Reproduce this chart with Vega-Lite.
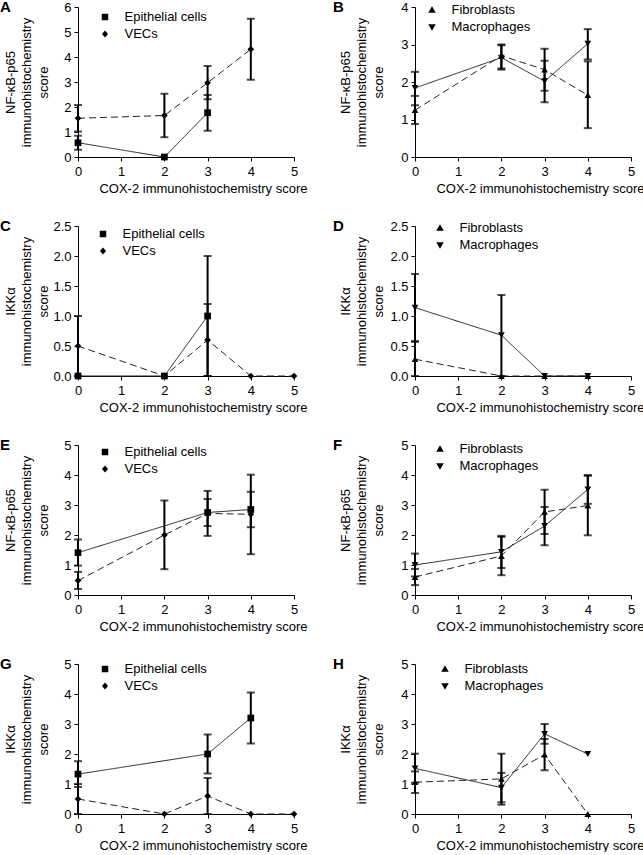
{
  "$schema": "https://vega.github.io/schema/vega-lite/v6.json",
  "padding": 0,
  "background": "white",
  "config": {
    "view": {"stroke": null},
    "font": "Liberation Sans",
    "axis": {"domainColor": "#000", "tickColor": "#000", "labelColor": "#000", "titleColor": "#000", "labelFont": "Liberation Sans", "titleFont": "Liberation Sans", "labelFontSize": 13, "titleFontSize": 13, "titleFontWeight": "normal", "grid": false, "tickSize": 4, "domainWidth": 1, "tickWidth": 1, "labelOverlap": false},
    "axisX": {"values": [0, 1, 2, 3, 4, 5], "labelPadding": 4, "titleX": 229, "titleY": 35, "titleAlign": "right", "titleBaseline": "alphabetic", "labelFlush": false},
    "axisY": {"titleY": 75, "titleAngle": -90, "titleBaseline": "middle", "titleAlign": "center", "titleLineHeight": 16.5, "labelPadding": 3},
    "title": {"anchor": "start", "frame": "group", "fontSize": 15, "fontWeight": "bold", "font": "Liberation Sans", "color": "#000", "offset": 0},
    "legend": {"symbolSize": 100, "labelOffset": 13, "rowPadding": 3, "labelFontSize": 13, "labelFont": "Liberation Sans", "labelColor": "#000", "padding": 0}
  },
  "data": {"values": [
    {"panel": "A", "series": "Epithelial cells", "x": 0, "y": 0.57, "lo": 0.29, "hi": 0.85},
    {"panel": "A", "series": "Epithelial cells", "x": 2, "y": 0},
    {"panel": "A", "series": "Epithelial cells", "x": 3, "y": 1.77, "lo": 1.05, "hi": 2.48},
    {"panel": "A", "series": "VECs", "x": 0, "y": 1.55, "lo": 1.02, "hi": 2.08},
    {"panel": "A", "series": "VECs", "x": 2, "y": 1.66, "lo": 0.79, "hi": 2.53},
    {"panel": "A", "series": "VECs", "x": 3, "y": 2.97, "lo": 2.31, "hi": 3.64},
    {"panel": "A", "series": "VECs", "x": 4, "y": 4.31, "lo": 3.09, "hi": 5.53},
    {"panel": "B", "series": "Fibroblasts", "x": 0, "y": 1.25, "lo": 0.88, "hi": 1.63},
    {"panel": "B", "series": "Fibroblasts", "x": 2, "y": 2.7, "lo": 2.36, "hi": 3.0},
    {"panel": "B", "series": "Fibroblasts", "x": 3, "y": 2.33, "lo": 1.77, "hi": 2.89},
    {"panel": "B", "series": "Fibroblasts", "x": 4, "y": 1.65, "lo": 0.77, "hi": 2.55},
    {"panel": "B", "series": "Macrophages", "x": 0, "y": 1.84, "lo": 1.38, "hi": 2.27},
    {"panel": "B", "series": "Macrophages", "x": 2, "y": 2.65, "lo": 2.33, "hi": 2.98},
    {"panel": "B", "series": "Macrophages", "x": 3, "y": 2.02, "lo": 1.46, "hi": 2.57},
    {"panel": "B", "series": "Macrophages", "x": 4, "y": 3.02, "lo": 2.6, "hi": 3.41},
    {"panel": "C", "series": "Epithelial cells", "x": 0, "y": 0},
    {"panel": "C", "series": "Epithelial cells", "x": 2, "y": 0},
    {"panel": "C", "series": "Epithelial cells", "x": 3, "y": 1.0, "lo": 0, "hi": 2.0},
    {"panel": "C", "series": "VECs", "x": 0, "y": 0.5, "lo": 0, "hi": 1.0},
    {"panel": "C", "series": "VECs", "x": 2, "y": 0},
    {"panel": "C", "series": "VECs", "x": 3, "y": 0.6, "lo": 0, "hi": 1.2},
    {"panel": "C", "series": "VECs", "x": 4, "y": 0},
    {"panel": "C", "series": "VECs", "x": 5, "y": 0},
    {"panel": "D", "series": "Fibroblasts", "x": 0, "y": 0.28, "lo": 0, "hi": 0.57},
    {"panel": "D", "series": "Fibroblasts", "x": 2, "y": 0},
    {"panel": "D", "series": "Fibroblasts", "x": 3, "y": 0},
    {"panel": "D", "series": "Fibroblasts", "x": 4, "y": 0},
    {"panel": "D", "series": "Macrophages", "x": 0, "y": 1.14, "lo": 0.58, "hi": 1.7},
    {"panel": "D", "series": "Macrophages", "x": 2, "y": 0.68, "lo": 0, "hi": 1.35},
    {"panel": "D", "series": "Macrophages", "x": 3, "y": 0},
    {"panel": "D", "series": "Macrophages", "x": 4, "y": 0},
    {"panel": "E", "series": "Epithelial cells", "x": 0, "y": 1.41, "lo": 0.98, "hi": 1.85},
    {"panel": "E", "series": "Epithelial cells", "x": 3, "y": 2.75, "lo": 2.3, "hi": 3.2},
    {"panel": "E", "series": "Epithelial cells", "x": 4, "y": 2.85, "lo": 2.26, "hi": 3.44},
    {"panel": "E", "series": "VECs", "x": 0, "y": 0.48, "lo": 0.2, "hi": 0.77},
    {"panel": "E", "series": "VECs", "x": 2, "y": 2.0, "lo": 0.86, "hi": 3.15},
    {"panel": "E", "series": "VECs", "x": 3, "y": 2.72, "lo": 1.97, "hi": 3.47},
    {"panel": "E", "series": "VECs", "x": 4, "y": 2.69, "lo": 1.36, "hi": 4.01},
    {"panel": "F", "series": "Fibroblasts", "x": 0, "y": 0.6, "lo": 0.33, "hi": 0.87},
    {"panel": "F", "series": "Fibroblasts", "x": 2, "y": 1.3, "lo": 0.66, "hi": 1.94},
    {"panel": "F", "series": "Fibroblasts", "x": 3, "y": 2.77, "lo": 2.03, "hi": 3.51},
    {"panel": "F", "series": "Fibroblasts", "x": 4, "y": 2.98, "lo": 1.99, "hi": 3.97},
    {"panel": "F", "series": "Macrophages", "x": 0, "y": 1.0, "lo": 0.62, "hi": 1.38},
    {"panel": "F", "series": "Macrophages", "x": 2, "y": 1.44, "lo": 0.9, "hi": 1.97},
    {"panel": "F", "series": "Macrophages", "x": 3, "y": 2.3, "lo": 1.66, "hi": 2.93},
    {"panel": "F", "series": "Macrophages", "x": 4, "y": 3.52, "lo": 3.04, "hi": 4.0},
    {"panel": "G", "series": "Epithelial cells", "x": 0, "y": 1.33, "lo": 0.9, "hi": 1.76},
    {"panel": "G", "series": "Epithelial cells", "x": 3, "y": 2.0, "lo": 1.35, "hi": 2.65},
    {"panel": "G", "series": "Epithelial cells", "x": 4, "y": 3.2, "lo": 2.35, "hi": 4.05},
    {"panel": "G", "series": "VECs", "x": 0, "y": 0.5, "lo": 0, "hi": 1.0},
    {"panel": "G", "series": "VECs", "x": 2, "y": 0},
    {"panel": "G", "series": "VECs", "x": 3, "y": 0.6, "lo": 0, "hi": 1.2},
    {"panel": "G", "series": "VECs", "x": 4, "y": 0},
    {"panel": "G", "series": "VECs", "x": 5, "y": 0},
    {"panel": "H", "series": "Fibroblasts", "x": 0, "y": 1.06, "lo": 0.7, "hi": 1.42},
    {"panel": "H", "series": "Fibroblasts", "x": 2, "y": 1.17, "lo": 0.31, "hi": 2.01},
    {"panel": "H", "series": "Fibroblasts", "x": 3, "y": 1.98, "lo": 1.46, "hi": 2.5},
    {"panel": "H", "series": "Fibroblasts", "x": 4, "y": 0},
    {"panel": "H", "series": "Macrophages", "x": 0, "y": 1.52, "lo": 1.04, "hi": 2.01},
    {"panel": "H", "series": "Macrophages", "x": 2, "y": 0.88, "lo": 0.39, "hi": 1.37},
    {"panel": "H", "series": "Macrophages", "x": 3, "y": 2.67, "lo": 2.34, "hi": 3.0},
    {"panel": "H", "series": "Macrophages", "x": 4, "y": 2.0}
  ]},
  "columns": 2,
  "spacing": {"row": 69, "column": 121},
  "bounds": "flush",
  "resolve": {"scale": {"shape": "independent", "strokeDash": "independent"}, "legend": {"shape": "independent", "strokeDash": "independent"}},
  "concat": [
      {"width": 216, "height": 150, "title": {"text": "A", "dx": -78, "dy": 18},
       "transform": [{"filter": "datum.panel === 'A'"}],
       "encoding": {"x": {"field": "x", "type": "quantitative", "scale": {"domain": [0, 5], "nice": false}, "title": "COX-2 immunohistochemistry score"}},
       "layer": [
        {"mark": {"type": "line", "color": "#222", "strokeWidth": 1}, "encoding": {"y": {"field": "y", "type": "quantitative", "scale": {"domain": [0, 6], "nice": false}, "axis": {"values": [0, 1, 2, 3, 4, 5, 6], "titleX": -68}, "title": ["NF-κB-p65", "immunohistochemistry", "score"]},
          "detail": {"field": "series"}, "strokeDash": {"condition": {"test": "datum.series === 'VECs'", "value": [7, 4]}, "value": [1, 0]}}},
        {"transform": [{"filter": "isValid(datum.lo)"}], "mark": {"type": "rule", "color": "#000", "strokeWidth": 2}, "encoding": {"y": {"field": "lo", "type": "quantitative", "scale": {"domain": [0, 6], "nice": false}, "axis": {"values": [0, 1, 2, 3, 4, 5, 6], "titleX": -68}, "title": ["NF-κB-p65", "immunohistochemistry", "score"]}, "y2": {"field": "hi"}}},
        {"transform": [{"filter": "isValid(datum.lo)"}], "mark": {"type": "tick", "orient": "horizontal", "color": "#000", "thickness": 2, "size": 8}, "encoding": {"y": {"field": "lo", "type": "quantitative", "scale": {"domain": [0, 6], "nice": false}, "axis": {"values": [0, 1, 2, 3, 4, 5, 6], "titleX": -68}, "title": ["NF-κB-p65", "immunohistochemistry", "score"]}}},
        {"transform": [{"filter": "isValid(datum.lo)"}], "mark": {"type": "tick", "orient": "horizontal", "color": "#000", "thickness": 2, "size": 8}, "encoding": {"y": {"field": "hi", "type": "quantitative", "scale": {"domain": [0, 6], "nice": false}, "axis": {"values": [0, 1, 2, 3, 4, 5, 6], "titleX": -68}, "title": ["NF-κB-p65", "immunohistochemistry", "score"]}}},
        {"mark": {"type": "point", "filled": true, "color": "#000", "opacity": 1}, "encoding": {"y": {"field": "y", "type": "quantitative", "scale": {"domain": [0, 6], "nice": false}, "axis": {"values": [0, 1, 2, 3, 4, 5, 6], "titleX": -68}, "title": ["NF-κB-p65", "immunohistochemistry", "score"]}, "size": {"value": 45},
          "shape": {"condition": {"test": "datum.series === 'VECs'", "value": "diamond"}, "value": "square"}}},
        {"mark": {"type": "point", "filled": true, "color": "#000", "opacity": 0, "strokeWidth": 1}, "encoding": {"y": {"field": "y", "type": "quantitative", "scale": {"domain": [0, 6], "nice": false}, "axis": {"values": [0, 1, 2, 3, 4, 5, 6], "titleX": -68}, "title": ["NF-κB-p65", "immunohistochemistry", "score"]}, "size": {"value": 10},
          "shape": {"field": "series", "type": "nominal", "scale": {"domain": ["Epithelial cells", "VECs"], "range": ["M-2.3,0H2.3M-0.65,-0.65H0.65V0.65H-0.65Z", "M-2.3,0H2.3M0,-0.7L0.6,0L0,0.7L-0.6,0Z"]},
            "legend": {"title": null, "orient": "none", "legendX": 20.5, "legendY": 3.5, "encode": {"symbols": {"fill": {"value": "#000"}, "stroke": {"value": "#222"}, "strokeWidth": {"value": 1}, "opacity": {"value": 1}}}}},
          "strokeDash": {"field": "series", "type": "nominal", "scale": {"domain": ["Epithelial cells", "VECs"], "range": [[1, 0], [4, 3]]},
            "legend": {"title": null, "orient": "none", "legendX": 20.5, "legendY": 3.5, "encode": {"symbols": {"fill": {"value": "#000"}, "stroke": {"value": "#222"}, "strokeWidth": {"value": 1}, "opacity": {"value": 1}}}}}}}
       ]},
      {"width": 216, "height": 150, "title": {"text": "B", "dx": -82, "dy": 18},
       "transform": [{"filter": "datum.panel === 'B'"}],
       "encoding": {"x": {"field": "x", "type": "quantitative", "scale": {"domain": [0, 5], "nice": false}, "title": "COX-2 immunohistochemistry score"}},
       "layer": [
        {"mark": {"type": "line", "color": "#222", "strokeWidth": 1}, "encoding": {"y": {"field": "y", "type": "quantitative", "scale": {"domain": [0, 4], "nice": false}, "axis": {"values": [0, 1, 2, 3, 4], "titleX": -70}, "title": ["NF-κB-p65", "immunohistochemistry", "score"]},
          "detail": {"field": "series"}, "strokeDash": {"condition": {"test": "datum.series === 'Fibroblasts'", "value": [7, 4]}, "value": [1, 0]}}},
        {"transform": [{"filter": "isValid(datum.lo)"}], "mark": {"type": "rule", "color": "#000", "strokeWidth": 2}, "encoding": {"y": {"field": "lo", "type": "quantitative", "scale": {"domain": [0, 4], "nice": false}, "axis": {"values": [0, 1, 2, 3, 4], "titleX": -70}, "title": ["NF-κB-p65", "immunohistochemistry", "score"]}, "y2": {"field": "hi"}}},
        {"transform": [{"filter": "isValid(datum.lo)"}], "mark": {"type": "tick", "orient": "horizontal", "color": "#000", "thickness": 2, "size": 8}, "encoding": {"y": {"field": "lo", "type": "quantitative", "scale": {"domain": [0, 4], "nice": false}, "axis": {"values": [0, 1, 2, 3, 4], "titleX": -70}, "title": ["NF-κB-p65", "immunohistochemistry", "score"]}}},
        {"transform": [{"filter": "isValid(datum.lo)"}], "mark": {"type": "tick", "orient": "horizontal", "color": "#000", "thickness": 2, "size": 8}, "encoding": {"y": {"field": "hi", "type": "quantitative", "scale": {"domain": [0, 4], "nice": false}, "axis": {"values": [0, 1, 2, 3, 4], "titleX": -70}, "title": ["NF-κB-p65", "immunohistochemistry", "score"]}}},
        {"mark": {"type": "point", "filled": true, "color": "#000", "opacity": 1}, "encoding": {"y": {"field": "y", "type": "quantitative", "scale": {"domain": [0, 4], "nice": false}, "axis": {"values": [0, 1, 2, 3, 4], "titleX": -70}, "title": ["NF-κB-p65", "immunohistochemistry", "score"]}, "size": {"value": 45},
          "shape": {"condition": {"test": "datum.series === 'Fibroblasts'", "value": "triangle-up"}, "value": "triangle-down"}}},
        {"mark": {"type": "point", "filled": true, "color": "#000", "opacity": 0, "strokeWidth": 1}, "encoding": {"y": {"field": "y", "type": "quantitative", "scale": {"domain": [0, 4], "nice": false}, "axis": {"values": [0, 1, 2, 3, 4], "titleX": -70}, "title": ["NF-κB-p65", "immunohistochemistry", "score"]}, "size": {"value": 10},
          "shape": {"field": "series", "type": "nominal", "scale": {"domain": ["Fibroblasts", "Macrophages"], "range": ["M-2.3,0H2.3M0,-0.75L0.75,0.55H-0.75Z", "M-2.3,0H2.3M0,0.75L0.75,-0.55H-0.75Z"]},
            "legend": {"title": null, "orient": "none", "legendX": 10.5, "legendY": -3.5, "encode": {"symbols": {"fill": {"value": "#000"}, "stroke": {"value": "#222"}, "strokeWidth": {"value": 1}, "opacity": {"value": 1}}}}},
          "strokeDash": {"field": "series", "type": "nominal", "scale": {"domain": ["Fibroblasts", "Macrophages"], "range": [[4, 3], [1, 0]]},
            "legend": {"title": null, "orient": "none", "legendX": 10.5, "legendY": -3.5, "encode": {"symbols": {"fill": {"value": "#000"}, "stroke": {"value": "#222"}, "strokeWidth": {"value": 1}, "opacity": {"value": 1}}}}}}}
       ]},
      {"width": 216, "height": 150, "title": {"text": "C", "dx": -78, "dy": 18},
       "transform": [{"filter": "datum.panel === 'C'"}],
       "encoding": {"x": {"field": "x", "type": "quantitative", "scale": {"domain": [0, 5], "nice": false}, "title": "COX-2 immunohistochemistry score"}},
       "layer": [
        {"mark": {"type": "line", "color": "#222", "strokeWidth": 1}, "encoding": {"y": {"field": "y", "type": "quantitative", "scale": {"domain": [0, 2.5], "nice": false}, "axis": {"values": [0, 0.5, 1, 1.5, 2, 2.5], "format": ".1f", "titleX": -68}, "title": ["IKKα", "immunohistochemistry", "score"]},
          "detail": {"field": "series"}, "strokeDash": {"condition": {"test": "datum.series === 'VECs'", "value": [7, 4]}, "value": [1, 0]}}},
        {"transform": [{"filter": "isValid(datum.lo)"}], "mark": {"type": "rule", "color": "#000", "strokeWidth": 2}, "encoding": {"y": {"field": "lo", "type": "quantitative", "scale": {"domain": [0, 2.5], "nice": false}, "axis": {"values": [0, 0.5, 1, 1.5, 2, 2.5], "format": ".1f", "titleX": -68}, "title": ["IKKα", "immunohistochemistry", "score"]}, "y2": {"field": "hi"}}},
        {"transform": [{"filter": "isValid(datum.lo)"}], "mark": {"type": "tick", "orient": "horizontal", "color": "#000", "thickness": 2, "size": 8}, "encoding": {"y": {"field": "lo", "type": "quantitative", "scale": {"domain": [0, 2.5], "nice": false}, "axis": {"values": [0, 0.5, 1, 1.5, 2, 2.5], "format": ".1f", "titleX": -68}, "title": ["IKKα", "immunohistochemistry", "score"]}}},
        {"transform": [{"filter": "isValid(datum.lo)"}], "mark": {"type": "tick", "orient": "horizontal", "color": "#000", "thickness": 2, "size": 8}, "encoding": {"y": {"field": "hi", "type": "quantitative", "scale": {"domain": [0, 2.5], "nice": false}, "axis": {"values": [0, 0.5, 1, 1.5, 2, 2.5], "format": ".1f", "titleX": -68}, "title": ["IKKα", "immunohistochemistry", "score"]}}},
        {"mark": {"type": "point", "filled": true, "color": "#000", "opacity": 1}, "encoding": {"y": {"field": "y", "type": "quantitative", "scale": {"domain": [0, 2.5], "nice": false}, "axis": {"values": [0, 0.5, 1, 1.5, 2, 2.5], "format": ".1f", "titleX": -68}, "title": ["IKKα", "immunohistochemistry", "score"]}, "size": {"value": 45},
          "shape": {"condition": {"test": "datum.series === 'VECs'", "value": "diamond"}, "value": "square"}}},
        {"mark": {"type": "point", "filled": true, "color": "#000", "opacity": 0, "strokeWidth": 1}, "encoding": {"y": {"field": "y", "type": "quantitative", "scale": {"domain": [0, 2.5], "nice": false}, "axis": {"values": [0, 0.5, 1, 1.5, 2, 2.5], "format": ".1f", "titleX": -68}, "title": ["IKKα", "immunohistochemistry", "score"]}, "size": {"value": 10},
          "shape": {"field": "series", "type": "nominal", "scale": {"domain": ["Epithelial cells", "VECs"], "range": ["M-2.3,0H2.3M-0.65,-0.65H0.65V0.65H-0.65Z", "M-2.3,0H2.3M0,-0.7L0.6,0L0,0.7L-0.6,0Z"]},
            "legend": {"title": null, "orient": "none", "legendX": 18.5, "legendY": 1.5, "encode": {"symbols": {"fill": {"value": "#000"}, "stroke": {"value": "#222"}, "strokeWidth": {"value": 1}, "opacity": {"value": 1}}}}},
          "strokeDash": {"field": "series", "type": "nominal", "scale": {"domain": ["Epithelial cells", "VECs"], "range": [[1, 0], [4, 3]]},
            "legend": {"title": null, "orient": "none", "legendX": 18.5, "legendY": 1.5, "encode": {"symbols": {"fill": {"value": "#000"}, "stroke": {"value": "#222"}, "strokeWidth": {"value": 1}, "opacity": {"value": 1}}}}}}}
       ]},
      {"width": 216, "height": 150, "title": {"text": "D", "dx": -82, "dy": 18},
       "transform": [{"filter": "datum.panel === 'D'"}],
       "encoding": {"x": {"field": "x", "type": "quantitative", "scale": {"domain": [0, 5], "nice": false}, "title": "COX-2 immunohistochemistry score"}},
       "layer": [
        {"mark": {"type": "line", "color": "#222", "strokeWidth": 1}, "encoding": {"y": {"field": "y", "type": "quantitative", "scale": {"domain": [0, 2.5], "nice": false}, "axis": {"values": [0, 0.5, 1, 1.5, 2, 2.5], "format": ".1f", "titleX": -70}, "title": ["IKKα", "immunohistochemistry", "score"]},
          "detail": {"field": "series"}, "strokeDash": {"condition": {"test": "datum.series === 'Fibroblasts'", "value": [7, 4]}, "value": [1, 0]}}},
        {"transform": [{"filter": "isValid(datum.lo)"}], "mark": {"type": "rule", "color": "#000", "strokeWidth": 2}, "encoding": {"y": {"field": "lo", "type": "quantitative", "scale": {"domain": [0, 2.5], "nice": false}, "axis": {"values": [0, 0.5, 1, 1.5, 2, 2.5], "format": ".1f", "titleX": -70}, "title": ["IKKα", "immunohistochemistry", "score"]}, "y2": {"field": "hi"}}},
        {"transform": [{"filter": "isValid(datum.lo)"}], "mark": {"type": "tick", "orient": "horizontal", "color": "#000", "thickness": 2, "size": 8}, "encoding": {"y": {"field": "lo", "type": "quantitative", "scale": {"domain": [0, 2.5], "nice": false}, "axis": {"values": [0, 0.5, 1, 1.5, 2, 2.5], "format": ".1f", "titleX": -70}, "title": ["IKKα", "immunohistochemistry", "score"]}}},
        {"transform": [{"filter": "isValid(datum.lo)"}], "mark": {"type": "tick", "orient": "horizontal", "color": "#000", "thickness": 2, "size": 8}, "encoding": {"y": {"field": "hi", "type": "quantitative", "scale": {"domain": [0, 2.5], "nice": false}, "axis": {"values": [0, 0.5, 1, 1.5, 2, 2.5], "format": ".1f", "titleX": -70}, "title": ["IKKα", "immunohistochemistry", "score"]}}},
        {"mark": {"type": "point", "filled": true, "color": "#000", "opacity": 1}, "encoding": {"y": {"field": "y", "type": "quantitative", "scale": {"domain": [0, 2.5], "nice": false}, "axis": {"values": [0, 0.5, 1, 1.5, 2, 2.5], "format": ".1f", "titleX": -70}, "title": ["IKKα", "immunohistochemistry", "score"]}, "size": {"value": 45},
          "shape": {"condition": {"test": "datum.series === 'Fibroblasts'", "value": "triangle-up"}, "value": "triangle-down"}}},
        {"mark": {"type": "point", "filled": true, "color": "#000", "opacity": 0, "strokeWidth": 1}, "encoding": {"y": {"field": "y", "type": "quantitative", "scale": {"domain": [0, 2.5], "nice": false}, "axis": {"values": [0, 0.5, 1, 1.5, 2, 2.5], "format": ".1f", "titleX": -70}, "title": ["IKKα", "immunohistochemistry", "score"]}, "size": {"value": 10},
          "shape": {"field": "series", "type": "nominal", "scale": {"domain": ["Fibroblasts", "Macrophages"], "range": ["M-2.3,0H2.3M0,-0.75L0.75,0.55H-0.75Z", "M-2.3,0H2.3M0,0.75L0.75,-0.55H-0.75Z"]},
            "legend": {"title": null, "orient": "none", "legendX": 18.5, "legendY": -4.5, "encode": {"symbols": {"fill": {"value": "#000"}, "stroke": {"value": "#222"}, "strokeWidth": {"value": 1}, "opacity": {"value": 1}}}}},
          "strokeDash": {"field": "series", "type": "nominal", "scale": {"domain": ["Fibroblasts", "Macrophages"], "range": [[4, 3], [1, 0]]},
            "legend": {"title": null, "orient": "none", "legendX": 18.5, "legendY": -4.5, "encode": {"symbols": {"fill": {"value": "#000"}, "stroke": {"value": "#222"}, "strokeWidth": {"value": 1}, "opacity": {"value": 1}}}}}}}
       ]},
      {"width": 216, "height": 150, "title": {"text": "E", "dx": -78, "dy": 18},
       "transform": [{"filter": "datum.panel === 'E'"}],
       "encoding": {"x": {"field": "x", "type": "quantitative", "scale": {"domain": [0, 5], "nice": false}, "title": "COX-2 immunohistochemistry score"}},
       "layer": [
        {"mark": {"type": "line", "color": "#222", "strokeWidth": 1}, "encoding": {"y": {"field": "y", "type": "quantitative", "scale": {"domain": [0, 5], "nice": false}, "axis": {"values": [0, 1, 2, 3, 4, 5], "titleX": -68}, "title": ["NF-κB-p65", "immunohistochemistry", "score"]},
          "detail": {"field": "series"}, "strokeDash": {"condition": {"test": "datum.series === 'VECs'", "value": [7, 4]}, "value": [1, 0]}}},
        {"transform": [{"filter": "isValid(datum.lo)"}], "mark": {"type": "rule", "color": "#000", "strokeWidth": 2}, "encoding": {"y": {"field": "lo", "type": "quantitative", "scale": {"domain": [0, 5], "nice": false}, "axis": {"values": [0, 1, 2, 3, 4, 5], "titleX": -68}, "title": ["NF-κB-p65", "immunohistochemistry", "score"]}, "y2": {"field": "hi"}}},
        {"transform": [{"filter": "isValid(datum.lo)"}], "mark": {"type": "tick", "orient": "horizontal", "color": "#000", "thickness": 2, "size": 8}, "encoding": {"y": {"field": "lo", "type": "quantitative", "scale": {"domain": [0, 5], "nice": false}, "axis": {"values": [0, 1, 2, 3, 4, 5], "titleX": -68}, "title": ["NF-κB-p65", "immunohistochemistry", "score"]}}},
        {"transform": [{"filter": "isValid(datum.lo)"}], "mark": {"type": "tick", "orient": "horizontal", "color": "#000", "thickness": 2, "size": 8}, "encoding": {"y": {"field": "hi", "type": "quantitative", "scale": {"domain": [0, 5], "nice": false}, "axis": {"values": [0, 1, 2, 3, 4, 5], "titleX": -68}, "title": ["NF-κB-p65", "immunohistochemistry", "score"]}}},
        {"mark": {"type": "point", "filled": true, "color": "#000", "opacity": 1}, "encoding": {"y": {"field": "y", "type": "quantitative", "scale": {"domain": [0, 5], "nice": false}, "axis": {"values": [0, 1, 2, 3, 4, 5], "titleX": -68}, "title": ["NF-κB-p65", "immunohistochemistry", "score"]}, "size": {"value": 45},
          "shape": {"condition": {"test": "datum.series === 'VECs'", "value": "diamond"}, "value": "square"}}},
        {"mark": {"type": "point", "filled": true, "color": "#000", "opacity": 0, "strokeWidth": 1}, "encoding": {"y": {"field": "y", "type": "quantitative", "scale": {"domain": [0, 5], "nice": false}, "axis": {"values": [0, 1, 2, 3, 4, 5], "titleX": -68}, "title": ["NF-κB-p65", "immunohistochemistry", "score"]}, "size": {"value": 10},
          "shape": {"field": "series", "type": "nominal", "scale": {"domain": ["Epithelial cells", "VECs"], "range": ["M-2.3,0H2.3M-0.65,-0.65H0.65V0.65H-0.65Z", "M-2.3,0H2.3M0,-0.7L0.6,0L0,0.7L-0.6,0Z"]},
            "legend": {"title": null, "orient": "none", "legendX": 20.5, "legendY": 0.5, "encode": {"symbols": {"fill": {"value": "#000"}, "stroke": {"value": "#222"}, "strokeWidth": {"value": 1}, "opacity": {"value": 1}}}}},
          "strokeDash": {"field": "series", "type": "nominal", "scale": {"domain": ["Epithelial cells", "VECs"], "range": [[1, 0], [4, 3]]},
            "legend": {"title": null, "orient": "none", "legendX": 20.5, "legendY": 0.5, "encode": {"symbols": {"fill": {"value": "#000"}, "stroke": {"value": "#222"}, "strokeWidth": {"value": 1}, "opacity": {"value": 1}}}}}}}
       ]},
      {"width": 216, "height": 150, "title": {"text": "F", "dx": -82, "dy": 18},
       "transform": [{"filter": "datum.panel === 'F'"}],
       "encoding": {"x": {"field": "x", "type": "quantitative", "scale": {"domain": [0, 5], "nice": false}, "title": "COX-2 immunohistochemistry score"}},
       "layer": [
        {"mark": {"type": "line", "color": "#222", "strokeWidth": 1}, "encoding": {"y": {"field": "y", "type": "quantitative", "scale": {"domain": [0, 5], "nice": false}, "axis": {"values": [0, 1, 2, 3, 4, 5], "titleX": -70}, "title": ["NF-κB-p65", "immunohistochemistry", "score"]},
          "detail": {"field": "series"}, "strokeDash": {"condition": {"test": "datum.series === 'Fibroblasts'", "value": [7, 4]}, "value": [1, 0]}}},
        {"transform": [{"filter": "isValid(datum.lo)"}], "mark": {"type": "rule", "color": "#000", "strokeWidth": 2}, "encoding": {"y": {"field": "lo", "type": "quantitative", "scale": {"domain": [0, 5], "nice": false}, "axis": {"values": [0, 1, 2, 3, 4, 5], "titleX": -70}, "title": ["NF-κB-p65", "immunohistochemistry", "score"]}, "y2": {"field": "hi"}}},
        {"transform": [{"filter": "isValid(datum.lo)"}], "mark": {"type": "tick", "orient": "horizontal", "color": "#000", "thickness": 2, "size": 8}, "encoding": {"y": {"field": "lo", "type": "quantitative", "scale": {"domain": [0, 5], "nice": false}, "axis": {"values": [0, 1, 2, 3, 4, 5], "titleX": -70}, "title": ["NF-κB-p65", "immunohistochemistry", "score"]}}},
        {"transform": [{"filter": "isValid(datum.lo)"}], "mark": {"type": "tick", "orient": "horizontal", "color": "#000", "thickness": 2, "size": 8}, "encoding": {"y": {"field": "hi", "type": "quantitative", "scale": {"domain": [0, 5], "nice": false}, "axis": {"values": [0, 1, 2, 3, 4, 5], "titleX": -70}, "title": ["NF-κB-p65", "immunohistochemistry", "score"]}}},
        {"mark": {"type": "point", "filled": true, "color": "#000", "opacity": 1}, "encoding": {"y": {"field": "y", "type": "quantitative", "scale": {"domain": [0, 5], "nice": false}, "axis": {"values": [0, 1, 2, 3, 4, 5], "titleX": -70}, "title": ["NF-κB-p65", "immunohistochemistry", "score"]}, "size": {"value": 45},
          "shape": {"condition": {"test": "datum.series === 'Fibroblasts'", "value": "triangle-up"}, "value": "triangle-down"}}},
        {"mark": {"type": "point", "filled": true, "color": "#000", "opacity": 0, "strokeWidth": 1}, "encoding": {"y": {"field": "y", "type": "quantitative", "scale": {"domain": [0, 5], "nice": false}, "axis": {"values": [0, 1, 2, 3, 4, 5], "titleX": -70}, "title": ["NF-κB-p65", "immunohistochemistry", "score"]}, "size": {"value": 10},
          "shape": {"field": "series", "type": "nominal", "scale": {"domain": ["Fibroblasts", "Macrophages"], "range": ["M-2.3,0H2.3M0,-0.75L0.75,0.55H-0.75Z", "M-2.3,0H2.3M0,0.75L0.75,-0.55H-0.75Z"]},
            "legend": {"title": null, "orient": "none", "legendX": 18.5, "legendY": -2.5, "encode": {"symbols": {"fill": {"value": "#000"}, "stroke": {"value": "#222"}, "strokeWidth": {"value": 1}, "opacity": {"value": 1}}}}},
          "strokeDash": {"field": "series", "type": "nominal", "scale": {"domain": ["Fibroblasts", "Macrophages"], "range": [[4, 3], [1, 0]]},
            "legend": {"title": null, "orient": "none", "legendX": 18.5, "legendY": -2.5, "encode": {"symbols": {"fill": {"value": "#000"}, "stroke": {"value": "#222"}, "strokeWidth": {"value": 1}, "opacity": {"value": 1}}}}}}}
       ]},
      {"width": 216, "height": 150, "title": {"text": "G", "dx": -78, "dy": 18},
       "transform": [{"filter": "datum.panel === 'G'"}],
       "encoding": {"x": {"field": "x", "type": "quantitative", "scale": {"domain": [0, 5], "nice": false}, "title": "COX-2 immunohistochemistry score"}},
       "layer": [
        {"mark": {"type": "line", "color": "#222", "strokeWidth": 1}, "encoding": {"y": {"field": "y", "type": "quantitative", "scale": {"domain": [0, 5], "nice": false}, "axis": {"values": [0, 1, 2, 3, 4, 5], "titleX": -68}, "title": ["IKKα", "immunohistochemistry", "score"]},
          "detail": {"field": "series"}, "strokeDash": {"condition": {"test": "datum.series === 'VECs'", "value": [7, 4]}, "value": [1, 0]}}},
        {"transform": [{"filter": "isValid(datum.lo)"}], "mark": {"type": "rule", "color": "#000", "strokeWidth": 2}, "encoding": {"y": {"field": "lo", "type": "quantitative", "scale": {"domain": [0, 5], "nice": false}, "axis": {"values": [0, 1, 2, 3, 4, 5], "titleX": -68}, "title": ["IKKα", "immunohistochemistry", "score"]}, "y2": {"field": "hi"}}},
        {"transform": [{"filter": "isValid(datum.lo)"}], "mark": {"type": "tick", "orient": "horizontal", "color": "#000", "thickness": 2, "size": 8}, "encoding": {"y": {"field": "lo", "type": "quantitative", "scale": {"domain": [0, 5], "nice": false}, "axis": {"values": [0, 1, 2, 3, 4, 5], "titleX": -68}, "title": ["IKKα", "immunohistochemistry", "score"]}}},
        {"transform": [{"filter": "isValid(datum.lo)"}], "mark": {"type": "tick", "orient": "horizontal", "color": "#000", "thickness": 2, "size": 8}, "encoding": {"y": {"field": "hi", "type": "quantitative", "scale": {"domain": [0, 5], "nice": false}, "axis": {"values": [0, 1, 2, 3, 4, 5], "titleX": -68}, "title": ["IKKα", "immunohistochemistry", "score"]}}},
        {"mark": {"type": "point", "filled": true, "color": "#000", "opacity": 1}, "encoding": {"y": {"field": "y", "type": "quantitative", "scale": {"domain": [0, 5], "nice": false}, "axis": {"values": [0, 1, 2, 3, 4, 5], "titleX": -68}, "title": ["IKKα", "immunohistochemistry", "score"]}, "size": {"value": 45},
          "shape": {"condition": {"test": "datum.series === 'VECs'", "value": "diamond"}, "value": "square"}}},
        {"mark": {"type": "point", "filled": true, "color": "#000", "opacity": 0, "strokeWidth": 1}, "encoding": {"y": {"field": "y", "type": "quantitative", "scale": {"domain": [0, 5], "nice": false}, "axis": {"values": [0, 1, 2, 3, 4, 5], "titleX": -68}, "title": ["IKKα", "immunohistochemistry", "score"]}, "size": {"value": 10},
          "shape": {"field": "series", "type": "nominal", "scale": {"domain": ["Epithelial cells", "VECs"], "range": ["M-2.3,0H2.3M-0.65,-0.65H0.65V0.65H-0.65Z", "M-2.3,0H2.3M0,-0.7L0.6,0L0,0.7L-0.6,0Z"]},
            "legend": {"title": null, "orient": "none", "legendX": 20.5, "legendY": -1.5, "encode": {"symbols": {"fill": {"value": "#000"}, "stroke": {"value": "#222"}, "strokeWidth": {"value": 1}, "opacity": {"value": 1}}}}},
          "strokeDash": {"field": "series", "type": "nominal", "scale": {"domain": ["Epithelial cells", "VECs"], "range": [[1, 0], [4, 3]]},
            "legend": {"title": null, "orient": "none", "legendX": 20.5, "legendY": -1.5, "encode": {"symbols": {"fill": {"value": "#000"}, "stroke": {"value": "#222"}, "strokeWidth": {"value": 1}, "opacity": {"value": 1}}}}}}}
       ]},
      {"width": 216, "height": 150, "title": {"text": "H", "dx": -82, "dy": 18},
       "transform": [{"filter": "datum.panel === 'H'"}],
       "encoding": {"x": {"field": "x", "type": "quantitative", "scale": {"domain": [0, 5], "nice": false}, "title": "COX-2 immunohistochemistry score"}},
       "layer": [
        {"mark": {"type": "line", "color": "#222", "strokeWidth": 1}, "encoding": {"y": {"field": "y", "type": "quantitative", "scale": {"domain": [0, 5], "nice": false}, "axis": {"values": [0, 1, 2, 3, 4, 5], "titleX": -70}, "title": ["IKKα", "immunohistochemistry", "score"]},
          "detail": {"field": "series"}, "strokeDash": {"condition": {"test": "datum.series === 'Fibroblasts'", "value": [7, 4]}, "value": [1, 0]}}},
        {"transform": [{"filter": "isValid(datum.lo)"}], "mark": {"type": "rule", "color": "#000", "strokeWidth": 2}, "encoding": {"y": {"field": "lo", "type": "quantitative", "scale": {"domain": [0, 5], "nice": false}, "axis": {"values": [0, 1, 2, 3, 4, 5], "titleX": -70}, "title": ["IKKα", "immunohistochemistry", "score"]}, "y2": {"field": "hi"}}},
        {"transform": [{"filter": "isValid(datum.lo)"}], "mark": {"type": "tick", "orient": "horizontal", "color": "#000", "thickness": 2, "size": 8}, "encoding": {"y": {"field": "lo", "type": "quantitative", "scale": {"domain": [0, 5], "nice": false}, "axis": {"values": [0, 1, 2, 3, 4, 5], "titleX": -70}, "title": ["IKKα", "immunohistochemistry", "score"]}}},
        {"transform": [{"filter": "isValid(datum.lo)"}], "mark": {"type": "tick", "orient": "horizontal", "color": "#000", "thickness": 2, "size": 8}, "encoding": {"y": {"field": "hi", "type": "quantitative", "scale": {"domain": [0, 5], "nice": false}, "axis": {"values": [0, 1, 2, 3, 4, 5], "titleX": -70}, "title": ["IKKα", "immunohistochemistry", "score"]}}},
        {"mark": {"type": "point", "filled": true, "color": "#000", "opacity": 1}, "encoding": {"y": {"field": "y", "type": "quantitative", "scale": {"domain": [0, 5], "nice": false}, "axis": {"values": [0, 1, 2, 3, 4, 5], "titleX": -70}, "title": ["IKKα", "immunohistochemistry", "score"]}, "size": {"value": 45},
          "shape": {"condition": {"test": "datum.series === 'Fibroblasts'", "value": "triangle-up"}, "value": "triangle-down"}}},
        {"mark": {"type": "point", "filled": true, "color": "#000", "opacity": 0, "strokeWidth": 1}, "encoding": {"y": {"field": "y", "type": "quantitative", "scale": {"domain": [0, 5], "nice": false}, "axis": {"values": [0, 1, 2, 3, 4, 5], "titleX": -70}, "title": ["IKKα", "immunohistochemistry", "score"]}, "size": {"value": 10},
          "shape": {"field": "series", "type": "nominal", "scale": {"domain": ["Fibroblasts", "Macrophages"], "range": ["M-2.3,0H2.3M0,-0.75L0.75,0.55H-0.75Z", "M-2.3,0H2.3M0,0.75L0.75,-0.55H-0.75Z"]},
            "legend": {"title": null, "orient": "none", "legendX": 23.5, "legendY": -1.5, "encode": {"symbols": {"fill": {"value": "#000"}, "stroke": {"value": "#222"}, "strokeWidth": {"value": 1}, "opacity": {"value": 1}}}}},
          "strokeDash": {"field": "series", "type": "nominal", "scale": {"domain": ["Fibroblasts", "Macrophages"], "range": [[4, 3], [1, 0]]},
            "legend": {"title": null, "orient": "none", "legendX": 23.5, "legendY": -1.5, "encode": {"symbols": {"fill": {"value": "#000"}, "stroke": {"value": "#222"}, "strokeWidth": {"value": 1}, "opacity": {"value": 1}}}}}}}
       ]}
  ]
}
